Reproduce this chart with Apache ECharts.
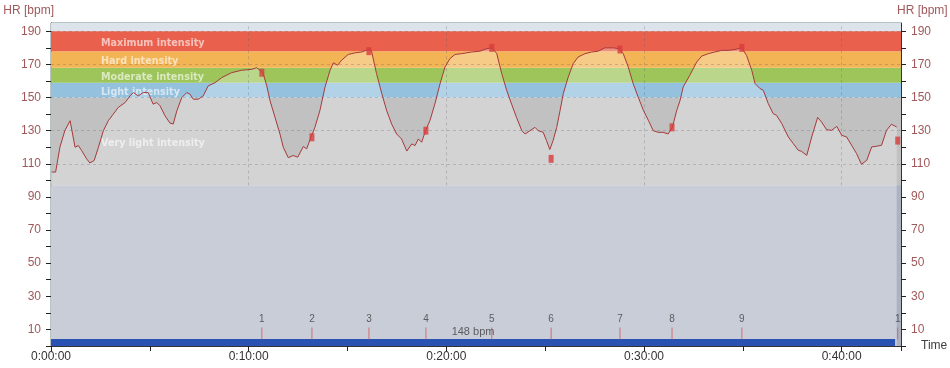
<!DOCTYPE html>
<html>
<head>
<meta charset="utf-8">
<script src="https://cdn.jsdelivr.net/npm/echarts@6/dist/echarts.min.js"></script>
<style>
  html, body { margin: 0; padding: 0; background: #ffffff; }
  #chart { width: 950px; height: 368px; }
</style>
</head>
<body>
<div id="chart"></div>
<script>
// ---- data (time in seconds, heart rate in bpm) ----
const timeSec = [2,14,27,42,58,73,83,93,108,118,131,144,159,174,189,204,225,240,250,265,280,295,310,321,331,346,361,371,382,397,412,422,432,447,462,477,498,518,548,579,609,624,634,644,655,665,680,695,705,720,735,749,766,776,789,801,816,832,847,857,870,882,902,923,943,963,973,988,1004,1019,1034,1049,1064,1080,1095,1105,1115,1125,1137,1150,1165,1181,1196,1211,1226,1246,1277,1302,1322,1339,1353,1368,1383,1398,1413,1429,1439,1454,1469,1479,1494,1504,1514,1524,1535,1545,1555,1570,1585,1600,1621,1641,1661,1681,1707,1724,1737,1752,1767,1782,1798,1813,1828,1843,1858,1873,1886,1899,1909,1919,1939,1960,1975,1995,2015,2036,2056,2076,2096,2111,2127,2137,2152,2162,2177,2192,2202,2218,2238,2253,2268,2278,2294,2309,2327,2339,2354,2369,2385,2400,2415,2430,2445,2460,2476,2491,2506,2521,2536,2551,2567];
const heartRate = [105,105,120,130,136,120,121,118,113,110.5,112,120,130,136,140,144,147,151,153,151,153,153,146,147,145,139,134.6,134,142,150,153,152,149,149,151,157,159,162,165,166.5,167,168,166.5,164.5,157,148,138,128,120,113.7,115,114,120.5,119,126,132,142,156.5,166.5,171,169.5,172.5,176,177,177.5,179,178,164.5,152.4,142,134,128,125,117.7,122,121,125,123,130,136,146,158.4,168.5,173.5,176,176.5,177.5,178,179.5,180,176.5,164.5,154.4,146,138,130,128,130,132,130,129,124,118.6,124,132,142,152.4,162.4,170.5,174.5,176.5,177.5,178,180,180,179.5,176.5,168.5,158.4,150.4,142.3,136.3,130,129,129,128,132,142,148,156.4,163.5,171.5,175,176.5,177.5,178.5,178.5,179,180,175.5,166.5,158.4,155.4,154.4,146.4,140.3,139.3,134.3,126.2,122.2,118.2,117.5,115.1,126.2,138,135.2,130.6,130.2,132.6,127.2,126.2,121.2,116.2,109.7,112.1,120.2,120.6,121.2,130.2,133.9,132.2];

const lapNames = ['1','2','3','4','5','6','7','8','9','1'];
const lapTimes = [640,792,965,1138,1338,1518,1727,1885,2097,2570];
const lapHR    = [165,126,178,130,180,113,179,132,180,124];

const zoneNames  = ['Very light intensity','Light intensity','Moderate intensity','Hard intensity','Maximum intensity'];
const zoneBounds = [97,150,159,168,178,190];
const averageHR = 148;
const exerciseSpan = [0, 2562];
const totalTime = 2580;

const yTickValues  = [0,10,20,30,40,50,60,70,80,90,100,110,120,130,140,150,160,170,180,190];
const yLabelValues = [10,30,50,70,90,110,130,150,170,190];
const xTickValues  = [0,300,600,900,1200,1500,1800,2100,2400,2580];
const xLabelValues = [0,600,1200,1800,2400];
const hGridValues  = [110,130,150,170,190];
const vGridValues  = [600,1200,1800,2400];

// ---- styles ----
const zoneColors = ['#c1c1c1','#93c1de','#9dc55a','#f3b455','#e9604d'];
const topColor = '#dde3eb';
const lowColor = '#c9cdd8';
const axisRed = '#a0585a';

function pad(n){ return (n < 10 ? '0' : '') + n; }
function fmtTime(v){
  v = Math.round(v);
  return Math.floor(v/3600) + ':' + pad(Math.floor((v%3600)/60)) + ':' + pad(v%60);
}

const zoneAreas = [];
zoneAreas.push([{yAxis: zoneBounds[5], itemStyle:{color: topColor}}, {yAxis: 195}]);
zoneAreas.push([{yAxis: 0, itemStyle:{color: lowColor}}, {yAxis: zoneBounds[0]}]);
for (let i = 0; i < zoneNames.length; i++) {
  zoneAreas.push([{
    name: zoneNames[i],
    yAxis: zoneBounds[i],
    itemStyle: {color: zoneColors[i]},
    label: {
      show: true, position: 'insideLeft', distance: 50, offset: [0, 2],
      formatter: zoneNames[i],
      color: 'rgba(255,255,255,0.62)', fontFamily: 'DejaVu Sans', fontWeight: 'bold', fontSize: 9.6
    }
  }, {yAxis: zoneBounds[i+1]}]);
}
zoneAreas.push([{xAxis: timeSec[timeSec.length-1], yAxis: 0, itemStyle:{color:'#adb2c0'}}, {xAxis: totalTime, yAxis: zoneBounds[0]}]);
zoneAreas.push([{xAxis: exerciseSpan[0], yAxis: 0, itemStyle:{color:'#2a52b2'}}, {xAxis: exerciseSpan[1], yAxis: 4.2}]);

const gridLines = hGridValues.map(v => ({yAxis: v}))
  .concat(vGridValues.map(v => [{xAxis: v, yAxis: zoneBounds[0]}, {xAxis: v, yAxis: 195}]));

const yAxisBase = {
  type: 'value', min: 0, max: 195, interval: 10,
  name: 'HR [bpm]', nameLocation: 'end', nameGap: 6,
  nameTextStyle: {color: axisRed, fontSize: 12, fontFamily: 'Liberation Sans'},
  axisLine: {show: true, lineStyle: {color: '#333'}},
  axisTick: {show: true, length: 5, lineStyle: {color: '#222'}, customValues: yTickValues},
  axisLabel: {color: axisRed, fontSize: 12, fontFamily: 'Liberation Sans', margin: 10,
    customValues: yLabelValues,
    formatter: v => (v % 20 === 10 ? String(v) : '')},
  splitLine: {show: false}
};

const option = {
  animation: false,
  backgroundColor: '#ffffff',
  grid: {left: 51, right: 49, top: 23, bottom: 22, show: true, borderColor: '#708686', borderWidth: 1,
         backgroundColor: 'transparent', outerBoundsMode: 'none', containLabel: false},
  xAxis: {
    type: 'value', min: 0, max: totalTime, interval: 300,
    name: 'Time', nameLocation: 'end', nameGap: 20,
    nameTextStyle: {color: '#404040', fontSize: 12, fontFamily: 'Liberation Sans', padding: [10,0,0,0]},
    axisLine: {show: true, lineStyle: {color: '#333'}},
    axisTick: {show: true, length: 5, lineStyle: {color: '#222'}, customValues: xTickValues},
    axisLabel: {color: '#333', fontSize: 12, fontFamily: 'Liberation Sans', margin: 5,
      customValues: xLabelValues,
      formatter: v => (v % 600 === 0 ? fmtTime(v) : '')},
    splitLine: {show: false}
  },
  yAxis: [
    Object.assign({}, yAxisBase, {position: 'left', nameTextStyle: Object.assign({}, yAxisBase.nameTextStyle, {align: 'right', padding: [0,-3,0,0]})}),
    Object.assign({}, yAxisBase, {position: 'right', nameTextStyle: Object.assign({}, yAxisBase.nameTextStyle, {align: 'left', padding: [0,0,0,-4]})})
  ],
  series: [
    {
      name: 'zones', type: 'line', data: [], z: 1, silent: true,
      markArea: {silent: true, data: zoneAreas}
    },
    {
      name: 'HR', type: 'line', z: 2, silent: true,
      data: timeSec.map((t, i) => [t, heartRate[i]]),
      showSymbol: false, symbol: 'none',
      lineStyle: {color: '#a6393b', width: 1},
      areaStyle: {color: 'rgba(255,255,255,0.42)', origin: zoneBounds[0]}
    },
    {
      name: 'grid', type: 'line', data: [], z: 3, silent: true,
      markLine: {silent: true, symbol: 'none', label: {show: false},
        lineStyle: {color: 'rgba(90,90,110,0.28)', type: [3,3], width: 1},
        data: gridLines}
    },
    {
      name: 'lapHR', type: 'scatter', z: 5, silent: true,
      symbol: 'rect', symbolSize: [5, 8],
      itemStyle: {color: '#d83c3c'},
      data: lapTimes.map((t, i) => [t, lapHR[i]])
    },
    {
      name: 'laps', type: 'scatter', z: 5, silent: true,
      symbol: 'rect', symbolSize: [1, 12],
      itemStyle: {color: '#d0585a'},
      data: lapTimes.map((t, i) => ({value: [t, 7.6], name: lapNames[i]})),
      label: {show: true, position: 'top', distance: 3, formatter: p => p.name,
        color: '#404040', fontSize: 10, fontFamily: 'Liberation Sans'}
    },
    {
      name: 'avg', type: 'scatter', z: 5, silent: true,
      symbolSize: 0,
      data: [{value: [(exerciseSpan[0] + exerciseSpan[1]) / 2, 8.2], name: averageHR + ' bpm'}],
      label: {show: true, position: 'inside', formatter: p => p.name,
        color: '#404040', fontSize: 11, fontFamily: 'Liberation Sans'}
    }
  ]
};

const chart = echarts.init(document.getElementById('chart'), null, {renderer: 'canvas'});
chart.setOption(option);
</script>
</body>
</html>
